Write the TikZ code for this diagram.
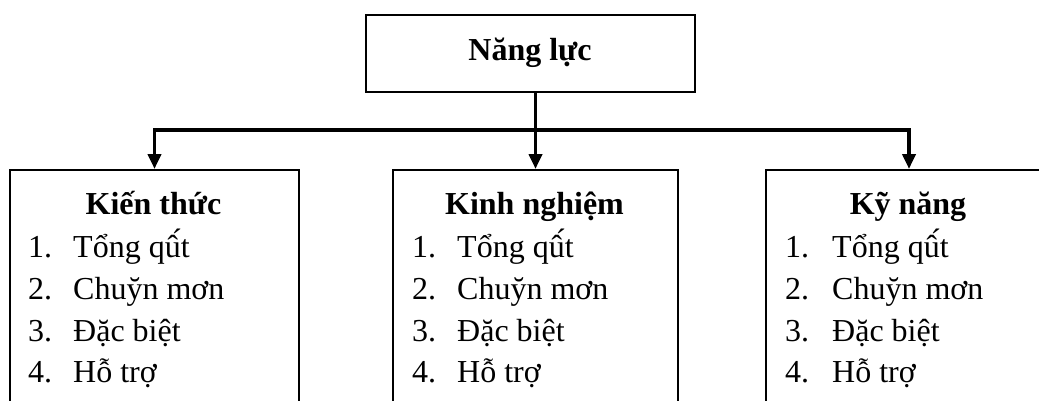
\documentclass[tikz,border=0pt]{standalone}
\usepackage{fontspec}
\setmainfont{Liberation Serif}
\usetikzlibrary{arrows.meta}
\begin{document}
\begin{tikzpicture}[x=1pt,y=-1pt,
  box/.style={draw,line width=2pt,rectangle,inner sep=0pt,anchor=north west},
  conn/.style={line width=3.8pt,line join=miter},
  tip/.style={-{Triangle[length=15pt,width=13pt]}},
  head/.style={font=\fontsize{32}{38}\selectfont\bfseries,anchor=base,inner sep=0pt},
  item/.style={font=\fontsize{32}{38}\selectfont,anchor=base west,inner sep=0pt}]
\useasboundingbox (0,0) rectangle (1039,400);
\clip (0,0) rectangle (1039,400);
\fill[white] (0,0) rectangle (1039,400);

% top box
\node[box,minimum width=329pt,minimum height=77pt] (nl) at (365,14) {};
\node[head] (nlt) at (530,60) {Năng lực};

% three lower boxes, running past the bottom edge
\node[box,minimum width=289pt,minimum height=260pt] (kt) at (9,169) {};
\node[box,minimum width=285pt,minimum height=260pt] (kn) at (392,169) {};
\node[box,minimum width=286pt,minimum height=260pt] (kq) at (765,169) {};

\coordinate (bus) at (534,130);

% connectors
\draw[conn,{Triangle[length=15pt,width=13pt]}-{Triangle[length=15pt,width=13pt]}]
  (kt.north) |- (bus) -| (kq.north);
\draw[conn,tip] (nl.south -| kn.north) -- (kn.north);

% headings
\node[head] (ktt) at (153.5,214) {Kiến thức};
\node[head] (knt) at (534.5,214) {Kinh nghiệm};
\node[head] (kqt) at (908,214) {Kỹ năng};

% numbered lists
\foreach \name/\xa/\xb in {kt/28/73, kn/412/457, kq/785/832}{
  \node[item] (\name n1) at (\xa,257) {1.};
  \node[item] (\name i1) at (\xb,257) {Tổng qû́t};
  \node[item] (\name n2) at (\xa,299) {2.};
  \node[item] (\name i2) at (\xb,299) {Chuy̆n mơn};
  \node[item] (\name n3) at (\xa,341) {3.};
  \node[item] (\name i3) at (\xb,341) {Đặc biệt};
  \node[item] (\name n4) at (\xa,382) {4.};
  \node[item] (\name i4) at (\xb,382) {Hỗ trợ};
}
\end{tikzpicture}
\end{document}
